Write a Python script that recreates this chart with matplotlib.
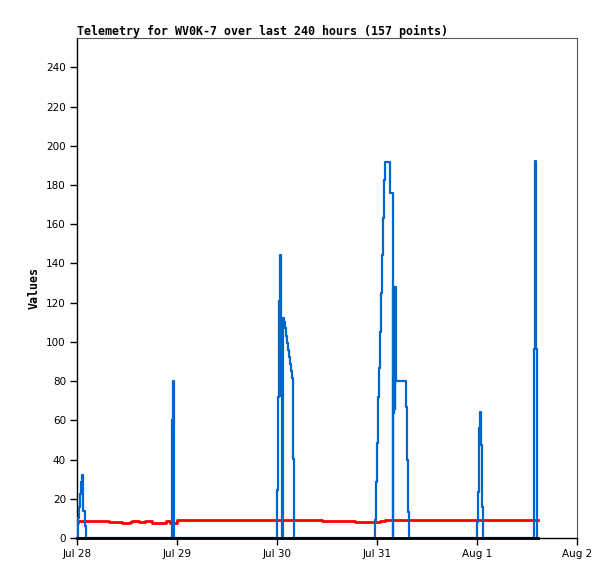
import numpy as np
import pandas as pd
import matplotlib
matplotlib.use("Agg")
import matplotlib.pyplot as plt
import matplotlib.dates as mdates
from matplotlib.ticker import FuncFormatter

start = pd.Timestamp("2024-07-28 00:00")

# hours since Jul 28 00:00 and values (step changes)
blue_h = [0.0, 0.12, 0.36, 0.72, 0.96, 1.2, 1.44, 1.8, 2.16,
          22.73, 22.87, 23.04, 23.28,
          48.07, 48.24, 48.48, 48.72, 48.96, 49.13, 49.2,
          49.51, 49.75, 49.99, 50.23, 50.47, 50.71, 50.95, 51.19, 51.43, 51.67, 51.91, 52.15,
          71.45, 71.76, 72.0, 72.24, 72.48, 72.72, 72.96, 73.2, 73.44, 73.68, 73.92,
          75.12, 75.77, 75.9, 76.0, 76.1, 76.2, 76.32, 76.56,
          78.96, 79.2, 79.44, 79.68,
          95.93, 96.17, 96.36, 96.55, 96.72, 96.96, 97.13, 97.37,
          109.7, 110.0, 110.24, 110.5]
blue_v = [0, 10, 16, 22.5, 28.6, 32, 14, 6, 0,
          20.6, 60, 80, 0,
          24.5, 72, 120.7, 144.5, 72.5, 56, 0,
          112, 110, 107, 103, 99.5, 96, 92.4, 88.9, 85.3, 81.7, 40.3, 0,
          9, 28.8, 48.5, 72, 86.8, 105, 125, 144.5, 163, 182.8, 192,
          176, 0, 128, 64, 128, 66, 128, 80,
          67, 40, 13.5, 0,
          8.3, 23.7, 40, 56, 64.3, 47.5, 16, 0,
          96.5, 192.5, 96.5, 0]

red_h = [0.0, 0.3, 7.7, 10.8, 12.7, 13.2, 14.9, 16.3, 18.0, 21.4, 22.2, 24.0,
         58.8, 66.7, 70.8, 72.7, 74.0, 110.7]
red_v = [7.8, 8.8, 8.2, 7.7, 8.0, 8.5, 8.0, 8.8, 7.8, 8.8, 7.5, 9.0,
         8.5, 8.1, 8.3, 8.6, 9.0, 9.0]

black_h = [0.0, 110.7]
black_v = [0, 0]

y_ticks = list(range(0, 241, 20))
day_ticks = pd.date_range("2024-07-28", "2024-08-02", freq="D")

def to_time(h):
    return start + pd.to_timedelta(h, unit="h")

fig = plt.figure(figsize=(6.15, 5.79), dpi=100)
ax = fig.add_axes([77/615, 41/579, 500/615, 500/579])

ax.plot(to_time(red_h), red_v, drawstyle="steps-post", color="#ff0000", lw=2.0, zorder=2)
ax.plot(to_time(blue_h), blue_v, drawstyle="steps-post", color="#0066cc", lw=1.6, zorder=3)
ax.plot(to_time(black_h), black_v, color="black", lw=2.0, zorder=4, clip_on=False)

ax.set_xlim(day_ticks[0], day_ticks[-1])
ax.set_ylim(0, 255)
ax.set_yticks(y_ticks)
ax.set_xticks(day_ticks)
ax.xaxis.set_major_formatter(FuncFormatter(
    lambda x, pos: "{:%b} {}".format(mdates.num2date(x), mdates.num2date(x).day)))

ax.tick_params(direction="out", length=5, width=1, labelsize=7.5, colors="black", pad=3)
for side in ["top", "right"]:
    ax.spines[side].set_color("#555555")
    ax.spines[side].set_linewidth(0.8)
for side in ["left", "bottom"]:
    ax.spines[side].set_color("black")
    ax.spines[side].set_linewidth(1.0)

ax.set_title("Telemetry for WV0K-7 over last 240 hours (157 points)",
             family="DejaVu Sans Mono", fontweight="bold", fontsize=8.4, loc="left", pad=2)
ax.set_ylabel("Values", family="DejaVu Sans Mono", fontweight="bold", fontsize=8.4, labelpad=4)

fig.savefig("out.png", dpi=100)
